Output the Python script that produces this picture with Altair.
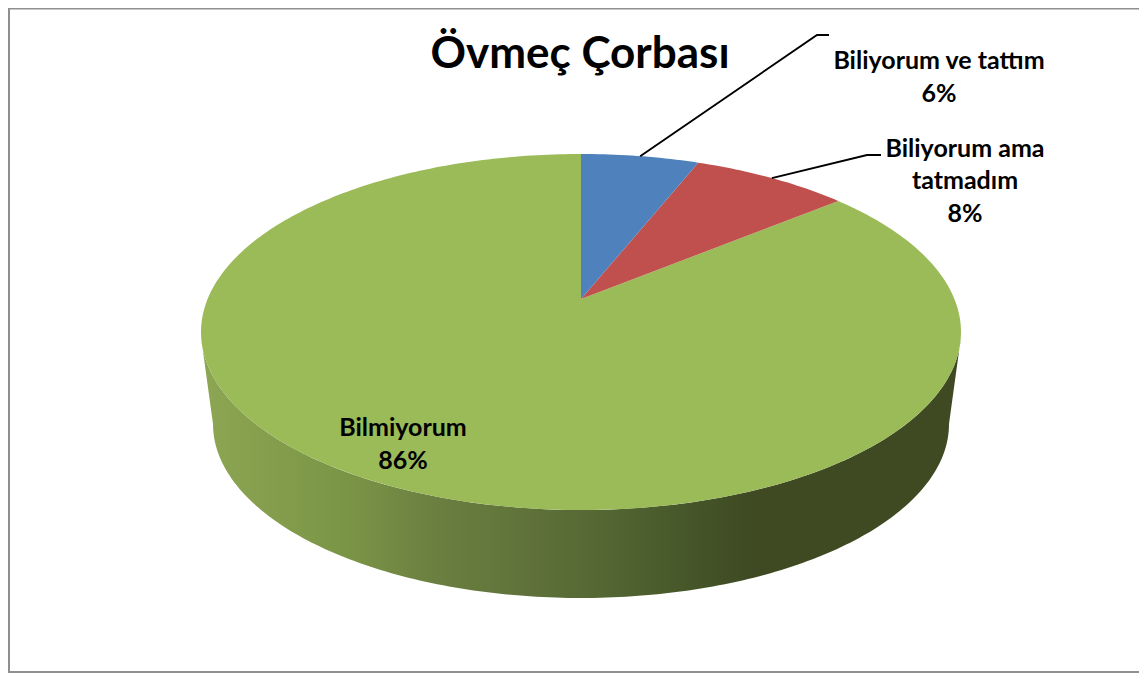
import math
import altair as alt

# ---- data ----
CATEGORIES = ["Biliyorum ve tattım", "Biliyorum ama tatmadım", "Bilmiyorum"]
SHARES = [6, 8, 86]
TITLE = "Övmeç Çorbası"
LABEL_LINES = ["Biliyorum ve tattım\n6%", "Biliyorum ama\ntatmadım\n8%", "Bilmiyorum\n86%"]
COLORS = ["#4f81bd", "#c0504d", "#9bbb59"]

# ---- layout (page pixels) ----
W, H = 1131, 665
OX, OY = 8, 8
AX, AY = 581, 299          # apex of the pie on the top face
PA, PB, PK = 373.4, 171.9, 0.1854   # perspective projection of the top face
BOT_RX, BOT_RY, BOT_CY = 368, 174, 424  # lower rim of the side wall
LABEL_POS = [(939, 61), (965, 148.5), (403, 428)]
LEADER_ELBOWS = [[(817, 35), (829, 35)], [(867, 155), (881, 155)]]


def rim(theta_deg):
    t = math.radians(theta_deg)
    d = 1 + PK * math.cos(t)
    return [AX + PA * math.sin(t) / d, AY - PB * math.cos(t) / d]


def feature(name, kind, coords):
    return {"type": "Feature", "properties": {"name": name},
            "geometry": {"type": kind, "coordinates": coords}}


# slices from the shares
total = sum(SHARES)
slices, mids = [], []
start = 0.0
for name, share in zip(CATEGORIES, SHARES):
    sweep = share / total * 360
    n = max(4, int(sweep))
    arc = [rim(start + sweep * i / n) for i in range(n + 1)]
    slices.append(feature(name, "Polygon", [[[AX, AY]] + arc + [[AX, AY]]]))
    mids.append(rim(start + sweep / 2))
    start += sweep

# side wall: front of the top rim (right to left), then lower rim (left to right)
top_front = [rim(t) for t in range(103, 258, 1)]
bottom = []
for i in range(0, 181):
    a = math.radians(i)
    bottom.append([AX - BOT_RX * math.cos(a), BOT_CY + BOT_RY * math.sin(a)])
wall = feature("wall", "Polygon", [top_front + bottom + [top_front[0]]])

leaders = [feature(f"leader{i}", "LineString", [mids[i]] + [list(p) for p in LEADER_ELBOWS[i]])
           for i in range(2)]
frame = [
    feature("left", "LineString", [[9, 8], [9, 671]]),
    feature("bottom", "LineString", [[8, 672], [1139, 672]]),
    feature("top", "LineString", [[8, 8.5], [1139, 8.5]]),
]

proj = dict(type="identity", scale=1, translate=[-OX, -OY])

wall_gradient = alt.Gradient(
    gradient="linear", x1=0, x2=1, y1=0, y2=0,
    stops=[
        alt.GradientStop(color="#8ca653", offset=0.0),
        alt.GradientStop(color="#7a9446", offset=0.2),
        alt.GradientStop(color="#6c8041", offset=0.3),
        alt.GradientStop(color="#586a35", offset=0.5),
        alt.GradientStop(color="#485a2b", offset=0.62),
        alt.GradientStop(color="#3f4a23", offset=0.72),
        alt.GradientStop(color="#3f4a23", offset=1.0),
    ],
)

wall_layer = alt.Chart(alt.Data(values=[wall])).mark_geoshape(
    fill=wall_gradient, stroke=None).project(**proj)

slice_layer = alt.Chart(alt.Data(values=slices[::-1])).mark_geoshape(strokeWidth=0).encode(
    color=alt.Color("properties.name:N", legend=None,
                    scale=alt.Scale(domain=CATEGORIES, range=COLORS)),
).project(**proj)

leader_layer = alt.Chart(alt.Data(values=leaders)).mark_geoshape(
    filled=False, stroke="#000000", strokeWidth=1.9).project(**proj)

frame_layer = alt.Chart(alt.Data(values=frame)).mark_geoshape(
    filled=False, stroke="#8f8f8f", strokeWidth=2).project(**proj)

label_rows = [{"t": t, "px": x - OX, "py": y - OY} for t, (x, y) in zip(LABEL_LINES, LABEL_POS)]
label_layer = alt.Chart(alt.Data(values=label_rows)).mark_text(
    font="Lato", fontWeight="bold", fontSize=25, color="#000000", lineBreak="\n",
    lineHeight=32.5, align="center", baseline="middle",
).encode(
    x=alt.X("px:Q", scale=None), y=alt.Y("py:Q", scale=None), text="t:N",
)

title_layer = alt.Chart(alt.Data(values=[{"t": TITLE, "px": 580 - OX, "py": 55 - OY}])).mark_text(
    font="Lato", fontWeight="bold", fontSize=44, color="#000000", align="center", baseline="middle",
).encode(
    x=alt.X("px:Q", scale=None), y=alt.Y("py:Q", scale=None), text="t:N",
)

chart = alt.layer(
    frame_layer, wall_layer, slice_layer, leader_layer, label_layer, title_layer
).properties(
    width=W, height=H, padding=0, background="#ffffff",
).configure_view(stroke=None)

chart.save("out.html", embed_options={"renderer": "svg", "actions": False})
